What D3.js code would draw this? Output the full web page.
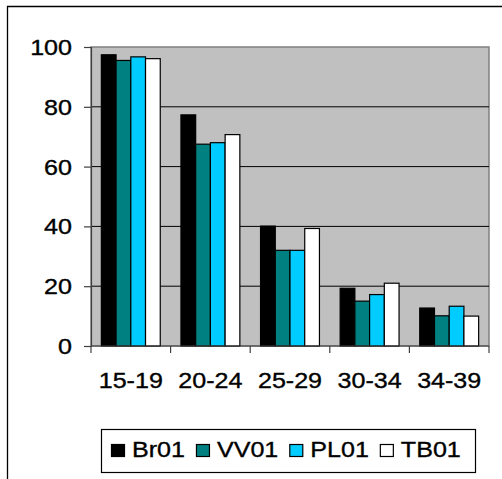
<!DOCTYPE html>
<html>
<head>
<meta charset="utf-8">
<script src="https://cdn.jsdelivr.net/npm/d3@7"></script>
<style>
  html, body { margin: 0; padding: 0; background: #fff; overflow: hidden; }
  svg { display: block; }
  text { font-family: "Liberation Sans", Arial, sans-serif; fill: #000; stroke: #000; stroke-width: 0.35px; }
</style>
</head>
<body>
<svg id="chart" width="502" height="479"></svg>
<script>
// Age groups along the x axis
const categories = ["15-19", "20-24", "25-29", "30-34", "34-39"];
// Series names and their values per age group
const seriesNames = ["Br01", "VV01", "PL01", "TB01"];
const br01 = [97.4, 77.3, 40.1, 19.3, 12.7];
const vv01 = [95.5, 67.5, 32.0, 15.0, 10.1];
const pl01 = [96.7, 68.0, 32.0, 17.2, 13.3];
const tb01 = [96.1, 70.7, 39.3, 21.0, 10.0];
const seriesColors = ["#000000", "#008080", "#00CCFF", "#FFFFFF"];
const yTicks = [0, 20, 40, 60, 80, 100];

const seriesValues = [br01, vv01, pl01, tb01];
const series = seriesNames.map((name, i) => ({ name, values: seriesValues[i], color: seriesColors[i] }));

const svg = d3.select("#chart");
const plot = { left: 91, top: 47, right: 489, bottom: 346 };
const textStretch = 1.14;
const fontSize = 22;

// Outer chart frame: only its top and left edges fall inside the canvas
svg.append("path")
  .attr("d", "M7.5,490 L7.5,6.5 L510,6.5")
  .attr("fill", "none").attr("stroke", "#000").attr("stroke-width", 1.3);

const x = d3.scaleBand().domain(categories).range([plot.left, plot.right]).padding(0);
const xInner = d3.scaleBand().domain(seriesNames)
  .range([x.bandwidth() * 0.13, x.bandwidth() * 0.87]).padding(0);
const y = d3.scaleLinear().domain([0, 100]).range([plot.bottom, plot.top]);

// Plot area background
svg.append("rect")
  .attr("x", plot.left).attr("y", plot.top)
  .attr("width", plot.right - plot.left).attr("height", plot.bottom - plot.top)
  .attr("fill", "#C0C0C0").attr("stroke", "#808080").attr("stroke-width", 1.5);

// Horizontal gridlines
svg.append("g")
  .selectAll("line")
  .data(yTicks.filter(t => t > 0 && t < 100))
  .join("line")
  .attr("x1", plot.left).attr("x2", plot.right)
  .attr("y1", d => y(d)).attr("y2", d => y(d))
  .attr("stroke", "#000").attr("stroke-width", 1);

// Bars
const groups = svg.append("g")
  .selectAll("g")
  .data(categories)
  .join("g")
  .attr("transform", d => `translate(${x(d)},0)`);

groups.selectAll("rect")
  .data((c, ci) => series.map(s => ({ name: s.name, color: s.color, value: s.values[ci] })))
  .join("rect")
  .attr("x", d => xInner(d.name))
  .attr("width", xInner.bandwidth())
  .attr("y", d => y(d.value))
  .attr("height", d => y(0) - y(d.value))
  .attr("fill", d => d.color)
  .attr("stroke", "#000").attr("stroke-width", 1.2);

// Y axis
const yAxis = d3.axisLeft(y).tickValues(yTicks).tickSize(7).tickPadding(12);
const yg = svg.append("g").attr("transform", `translate(${plot.left},0)`).call(yAxis);
yg.select(".domain").attr("stroke", "#404040").attr("stroke-width", 1.2);
yg.selectAll(".tick line").attr("stroke", "#404040").attr("stroke-width", 1.2);
yg.selectAll(".tick text")
  .attr("x", null).attr("dy", null)
  .attr("transform", `translate(-19,7.5) scale(${textStretch},1)`)
  .style("font-size", fontSize + "px")
  .style("font-family", "'Liberation Sans', Arial, sans-serif")
  .attr("text-anchor", "end");

// X axis: ticks at category boundaries, labels centred in each band
const xg = svg.append("g").attr("transform", `translate(0,${plot.bottom})`);
xg.append("line")
  .attr("x1", plot.left).attr("x2", plot.right)
  .attr("y1", 0).attr("y2", 0)
  .attr("stroke", "#404040").attr("stroke-width", 1.2);
const boundaries = categories.map(c => x(c)).concat([x(categories[categories.length - 1]) + x.bandwidth()]);
xg.selectAll("line.tk")
  .data(boundaries)
  .join("line")
  .attr("class", "tk")
  .attr("x1", d => d).attr("x2", d => d)
  .attr("y1", 0).attr("y2", 7)
  .attr("stroke", "#404040").attr("stroke-width", 1.2);
xg.selectAll("text")
  .data(categories)
  .join("text")
  .attr("transform", d => `translate(${x(d) + x.bandwidth() / 2},42) scale(${textStretch},1)`)
  .attr("text-anchor", "middle")
  .style("font-size", fontSize + "px")
  .text(d => d);

// Legend
const legend = svg.append("g");
legend.append("rect")
  .attr("x", 101.5).attr("y", 429.5)
  .attr("width", 374).attr("height", 43)
  .attr("fill", "#fff").attr("stroke", "#000").attr("stroke-width", 1.2);

let lx = 111;
series.forEach(s => {
  legend.append("rect")
    .attr("x", lx + 0.5).attr("y", 444.5)
    .attr("width", 13).attr("height", 12)
    .attr("fill", s.color).attr("stroke", "#000").attr("stroke-width", 1.2);
  const t = legend.append("text")
    .attr("transform", `translate(${lx + 21},457) scale(${textStretch},1)`)
    .style("font-size", fontSize + "px")
    .text(s.name);
  const w = t.node().getComputedTextLength() * textStretch;
  lx = lx + 21 + w + 11;
});
</script>
</body>
</html>
